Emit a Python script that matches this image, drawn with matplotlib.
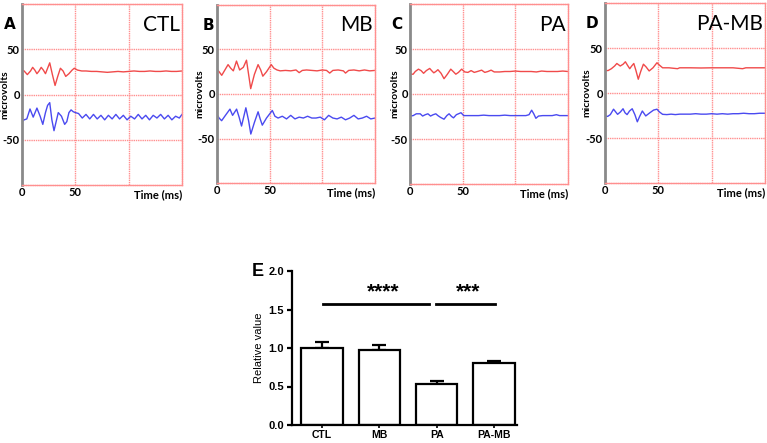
import matplotlib
matplotlib.use('Agg')
import matplotlib.pyplot as plt

# ---- ERG traces (time in ms, amplitude in microvolts) ----
ctl_red_t = [0, 2, 5, 8, 10, 12, 14, 16, 18, 20, 22, 24, 26, 28.5, 31, 33.5, 36, 38.5, 41, 44, 47, 49, 52, 56,
             60, 65, 70, 75, 80, 85, 90, 95, 100, 105, 110, 115, 120, 125, 130, 135, 140, 145, 150]
ctl_red_v = [27, 26, 22, 26, 30, 27, 23, 26, 30, 27, 23, 29, 35, 22, 10, 20, 29, 26, 20, 23, 27, 29, 27, 26,
             26, 25.5, 25.5, 25, 24.5, 25, 25.5, 25, 25.5, 26, 25.5, 25.5, 26, 25.5, 25.5, 26, 25.5, 25.5, 26]
ctl_blue_t = [0, 2, 4.5, 7.5, 10.5, 14, 17, 19.5, 22, 24, 26, 28, 30, 32, 34, 37, 40, 42, 44, 46, 48, 50,
              53, 56.5, 60, 63.5, 67, 70.5, 74, 77.5, 81, 84.5, 88, 91.5, 95, 98.5, 102, 105.5, 109, 112.5,
              116, 119.5, 123, 126.5, 130, 133.5, 137, 140.5, 144, 147.5, 150]
ctl_blue_v = [-30, -28, -27, -16, -25, -15, -24, -33, -20, -12, -9, -28, -40, -30, -20, -24, -33, -30, -20, -17, -19, -20,
              -21, -26, -22, -27, -22, -27, -23, -28, -23, -27, -22, -27, -23, -28, -24, -27, -22, -27,
              -23, -28, -23, -26, -22, -27, -23, -28, -24, -26, -22]

mb_red_t = [0, 2, 4.5, 7.5, 10.5, 13, 15.5, 18.5, 21.5, 25, 28, 30, 32, 35.5, 39, 41.5, 43.5, 47, 51.5, 54, 57,
            60, 65, 70, 75, 78, 81, 85, 90, 95, 100, 104, 107, 110, 115, 120, 122, 125, 130, 135, 140, 145, 150]
mb_red_v = [27.8, 25, 21, 27, 33, 29, 26, 37, 27, 30, 38, 22, 6, 22, 33, 27, 20, 25, 33, 29, 27,
            26, 26.5, 26, 27, 24, 26.5, 27, 26.5, 26, 27, 26.5, 23.5, 26.5, 27, 26, 23.5, 26.5, 27, 26, 27, 26, 26.5]
mb_blue_t = [0, 2, 4.4, 8, 12.3, 14.8, 18.6, 21, 23.3, 25.5, 27.4, 30, 32.1, 35.5, 39, 41, 43, 47, 52.5, 55, 58,
             62, 66, 70, 74, 78, 82, 86, 90, 94, 98, 102, 106, 110, 114, 118, 122, 126, 130, 134, 138, 142, 146, 150]
mb_blue_v = [-23, -27, -30, -24, -17, -24, -17, -26, -36, -25, -15.5, -30, -45, -32, -20, -28, -35, -27, -18.5, -25, -27,
             -25, -28, -24, -28, -26, -27, -25, -27, -27, -26, -29, -24, -27, -28, -26, -29, -27, -24, -28, -27, -25, -28, -27]

pa_red_t = [0, 3, 5, 8, 10.5, 12.9, 15.5, 18.7, 20.5, 22.6, 24.5, 26.5, 29.5, 32.3, 35.5, 38.7, 41, 43.5, 46, 49, 52,
            55, 58, 61, 64, 68, 71, 74, 77, 80, 85, 90, 95, 100, 105, 110, 115, 120, 125, 130, 135, 140, 145, 150]
pa_red_v = [22, 22, 25, 27.6, 26, 23, 26, 28.4, 26, 23.5, 25, 27, 23, 17, 22, 27.6, 25, 22, 24, 27.6, 24.5,
            24, 26, 24, 25, 26.5, 24, 25, 26.5, 24.5, 24.5, 25, 25, 25.5, 25, 25, 25, 24.5, 25.5, 25, 25, 25, 25.5, 25]
pa_blue_t = [0, 3, 6, 9.7, 12, 14.5, 17, 19.5, 22, 24.5, 26.5, 29, 32.3, 35, 37.1, 39.5, 41.3, 44, 48.4, 51,
             55, 60, 65, 70, 75, 80, 85, 90, 95, 100, 105, 110, 113, 115.5, 117.5, 119.5, 122, 126, 130, 135,
             139, 142, 146, 150]
pa_blue_v = [-24.6, -24, -22, -22, -24.5, -23, -22, -24.5, -23, -22, -24, -26, -28, -24, -22, -25, -26.5, -23, -20.8, -24,
             -24, -24, -24, -23.5, -24, -24, -24, -23.5, -24, -24, -24, -24, -23, -18, -22, -27, -24.5, -24, -24, -24,
             -23, -24, -24, -24]

pamb_red_t = [0, 3, 6, 9, 11.1, 14.3, 17, 19.1, 21, 23.2, 25, 27, 29, 31.2, 33.5, 36, 38.5, 41.4, 45, 48.7, 51, 54,
              60, 68, 70, 80, 90, 100, 110, 120, 129, 132, 140, 150]
pamb_red_v = [24.8, 25, 27, 30, 32.8, 30, 32, 34.7, 31, 27, 30, 32.8, 25, 15.3, 24, 32, 29, 24.5, 28, 33.6, 31, 28,
              28, 27, 28, 28, 27.8, 28, 28, 28, 27, 28, 28, 28]
pamb_blue_t = [0, 2.5, 5, 8, 11.8, 14.5, 16.9, 18.8, 20.7, 23, 25.5, 28, 30.3, 32.5, 35, 38.2, 42, 45.5, 48.7, 51, 54,
               58, 62, 66, 70, 75, 80, 85, 90, 95, 100, 105, 110, 115, 120, 125, 130, 135, 140, 145, 150]
pamb_blue_v = [-25.5, -26, -24, -18, -23.7, -21, -17.5, -22, -24, -20, -17.5, -24, -32, -26, -20, -25.5, -22, -19, -18, -21, -23.7,
               -24, -23.5, -24, -23.5, -23.5, -23.5, -23, -23.5, -23.5, -23, -23.5, -23, -23.5, -23, -23, -22.5, -23, -23, -22.5, -22.5]

panel_letters = ['A', 'B', 'C', 'D']
panel_names = ['CTL', 'MB', 'PA', 'PA-MB']
traces = [(ctl_red_t, ctl_red_v, ctl_blue_t, ctl_blue_v),
          (mb_red_t, mb_red_v, mb_blue_t, mb_blue_v),
          (pa_red_t, pa_red_v, pa_blue_t, pa_blue_v),
          (pamb_red_t, pamb_red_v, pamb_blue_t, pamb_blue_v)]

# ---- bar chart E ----
groups = ['CTL', 'MB', 'PA', 'PA-MB']
rel_value = [1.0, 0.975, 0.53, 0.80]
rel_err = [0.08, 0.06, 0.035, 0.025]

W, H = 767, 443
fig = plt.figure(figsize=(W / 100, H / 100), dpi=100)

# pixel boxes (left, top, right, bottom) of the trace axes
boxes = [(22, 4, 182, 185), (217, 5, 375, 183), (410, 4, 568, 184), (605, 3, 765, 183)]
letter_x = [-0.075, -0.057, -0.082, -0.081]
ylab_x = [-0.105, -0.108, -0.095, -0.114]

grid_col = '#ff8f8f'
for i, (l, t, r, b) in enumerate(boxes):
    ax = fig.add_axes([l / W, 1 - b / H, (r - l) / W, (b - t) / H])
    rt, rv, bt, bv = traces[i]
    ax.plot(rt, rv, color='#f04a4a', lw=1.0)
    ax.plot(bt, bv, color='#4a4af0', lw=1.0)
    ax.set_xlim(0, 150)
    ax.set_ylim(-100, 100)
    for yy in [-50, 0, 50]:
        ax.axhline(yy, color=grid_col, lw=1.0, ls=(0, (1, 0.6)), zorder=0)
    for xx in [50, 100]:
        ax.axvline(xx, color=grid_col, lw=1.0, ls=(0, (1, 0.6)), zorder=0)
    for s in ['top', 'right', 'bottom']:
        ax.spines[s].set_color(grid_col)
        ax.spines[s].set_linestyle((0, (1, 0.6)))
        ax.spines[s].set_linewidth(1.0)
    ax.spines['left'].set_color('#8a8a8a')
    ax.spines['left'].set_linewidth(2.0)
    ax.set_xticks([0, 50])
    ax.set_xticklabels(['0', '50'], fontsize=8, fontweight='bold', family='Lato')
    ax.set_yticks([-50, 0, 50])
    ax.set_yticklabels(['-50', '0', '50'], fontsize=8, fontweight='bold', family='Lato')
    ax.tick_params(length=0, pad=1.5)
    ax.text(1.0, -0.022, 'Time (ms)', transform=ax.transAxes, ha='right', va='top',
            fontsize=8, fontweight='bold', family='Lato')
    ax.text(ylab_x[i], 0.5, 'microvolts', transform=ax.transAxes, rotation=90,
            ha='center', va='center', fontsize=7.5, fontweight='bold', family='Lato')
    ax.text(letter_x[i], 0.885, panel_letters[i], transform=ax.transAxes, ha='center', va='center',
            fontsize=11, fontweight='bold')
    ax.text(0.985, 0.885, panel_names[i], transform=ax.transAxes, ha='right', va='center',
            fontsize=15, family='Lato')

# bar panel
bx_l, bx_t, bx_r, bx_b = 291.7, 271, 517, 425
axe = fig.add_axes([bx_l / W, 1 - bx_b / H, (bx_r - bx_l) / W, (bx_b - bx_t) / H])
pos = list(range(len(groups)))
axe.bar(pos, rel_value, width=0.72, color='white', edgecolor='black', linewidth=1.6, zorder=2)
axe.errorbar(pos, rel_value, yerr=[[0] * 4, rel_err], fmt='none', ecolor='black',
             elinewidth=1.6, capsize=5, capthick=1.6, zorder=1)
axe.set_xlim(-0.526, 3.4)
axe.set_ylim(0, 2.0)
axe.set_yticks([0, 0.5, 1.0, 1.5, 2.0])
axe.set_yticklabels(['0.0', '0.5', '1.0', '1.5', '2.0'], fontsize=8, fontweight='bold', family='Liberation Sans')
axe.set_xticks(pos)
axe.set_xticklabels(groups, fontsize=7.5, fontweight='bold', family='Liberation Sans')
axe.spines['top'].set_visible(False)
axe.spines['right'].set_visible(False)
axe.spines['left'].set_linewidth(1.6)
axe.spines['bottom'].set_linewidth(1.6)
axe.tick_params(axis='y', width=1.6, length=3.5, pad=2)
axe.tick_params(axis='x', width=1.2, length=2.5, pad=1)
axe.set_ylabel('Relative value', fontsize=8, family='Liberation Sans', labelpad=3)
axe.plot([0.02, 1.87], [1.565, 1.565], color='black', lw=2.0)
axe.plot([1.99, 3.02], [1.565, 1.565], color='black', lw=2.0)
axe.text(1.07, 1.6, '****', ha='center', va='bottom', fontsize=15, fontweight='bold', family='Liberation Sans')
axe.text(2.55, 1.6, '***', ha='center', va='bottom', fontsize=15, fontweight='bold', family='Liberation Sans')
axe.text(-0.15, 1.0, 'E', transform=axe.transAxes, ha='center', va='center',
         fontsize=13, fontweight='bold', family='Liberation Sans')

fig.savefig('out.png', dpi=100)
